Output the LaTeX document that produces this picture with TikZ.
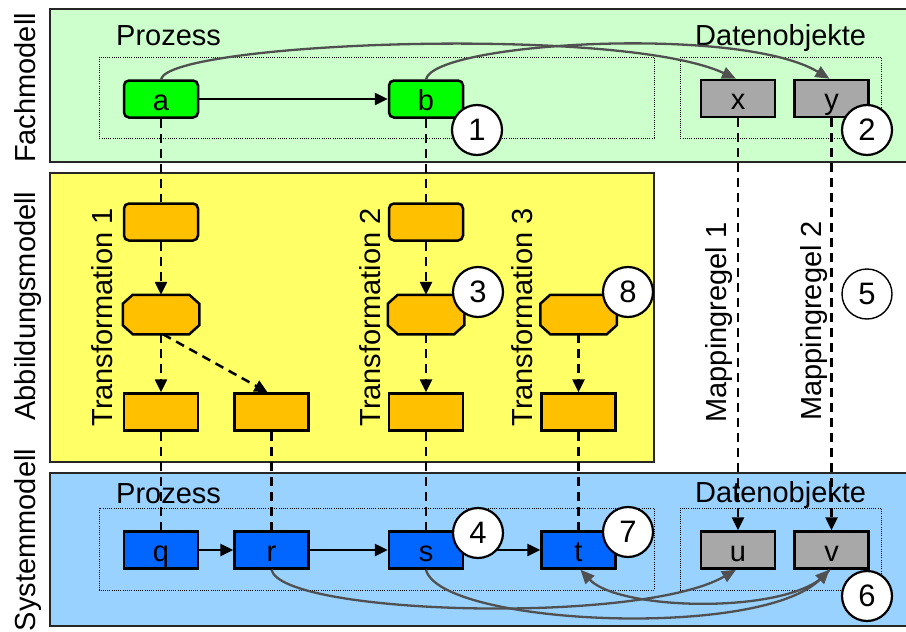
\documentclass[tikz,border=0pt]{standalone}
\usepackage{fontspec}
\setmainfont{Liberation Sans}
\usetikzlibrary{arrows.meta}
\definecolor{bandgreen}{HTML}{CCFFCC}
\definecolor{bandyellow}{HTML}{FFFF66}
\definecolor{bandblue}{HTML}{99D1FF}
\definecolor{nodegreen}{HTML}{00FF00}
\definecolor{nodeorange}{HTML}{FFC000}
\definecolor{nodeblue}{HTML}{0066FF}
\definecolor{nodegray}{HTML}{A8A8A8}
\definecolor{curvegray}{HTML}{505050}
\tikzset{
  band/.style={draw=black!85, line width=1.6pt},
  dotbox/.style={draw=black, line width=0.9pt, dash pattern=on 1pt off 1.2pt},
  lbl/.style={font=\fontsize{29}{34}\selectfont, inner sep=0pt},
  nbox/.style={draw=black, line width=2.5pt, minimum width=74pt, minimum height=37pt, inner sep=0pt, text height=22pt, text depth=0pt, font=\fontsize{29}{34}\selectfont},
  grn/.style={nbox, fill=nodegreen, rounded corners=5pt},
  gry/.style={nbox, fill=nodegray},
  orr/.style={nbox, fill=nodeorange, rounded corners=5pt},
  orb/.style={nbox, fill=nodeorange},
  oct/.style={nbox, draw=none},
  octpath/.style={draw=black, fill=nodeorange, line width=2.5pt},
  blu/.style={nbox, fill=nodeblue},
  num/.style={circle, draw=black, line width=2.2pt, fill=white, minimum size=50pt, inner sep=0pt, font=\fontsize{31}{36}\selectfont},
  flow/.style={draw=black, line width=2.5pt, -{Triangle[length=13pt,width=12pt]}},
  dl/.style={draw=black, line width=2.5pt, dash pattern=on 9pt off 6pt},
  dla/.style={dl, -{Triangle[length=13pt,width=12pt]}},
  gc/.style={draw=curvegray, line width=2.3pt, -{Triangle[length=14pt,width=12pt]}}
}
\newcommand{\octagon}[1]{%
  \path[octpath] ([xshift=10pt]#1.north west) -- ([xshift=-10pt]#1.north east)
    -- ([yshift=-9pt]#1.north east) -- ([yshift=9pt]#1.south east)
    -- ([xshift=-10pt]#1.south east) -- ([xshift=10pt]#1.south west)
    -- ([yshift=9pt]#1.south west) -- ([yshift=-9pt]#1.north west) -- cycle;}
\begin{document}
\begin{tikzpicture}[x=1pt,y=-1pt]
\useasboundingbox (0,0) rectangle (906,632);
% bands
\path[band, fill=bandgreen] (50,9) rectangle (908,162);
\path[band, fill=bandyellow] (50,173) rectangle (654,462);
\path[band, fill=bandblue] (50,473) rectangle (908,626);
% dotted groups
\path[dotbox] (99,57) rectangle (654,138);
\path[dotbox] (680,57) rectangle (881,138);
\path[dotbox] (99,508) rectangle (654,590);
\path[dotbox] (680,508) rectangle (881,590);
% labels
\node[lbl, rotate=90, anchor=base] (lf) at (35,88) {Fachmodell};
\node[lbl, rotate=90, anchor=base] (la) at (35,306) {Abbildungsmodell};
\node[lbl, rotate=90, anchor=base] (ls) at (35,540) {Systemmodell};
\node[lbl, anchor=base west] (p1) at (116,45) {Prozess};
\node[lbl, anchor=base west] (d1) at (695,45) {Datenobjekte};
\node[lbl, anchor=base west] (p2) at (116,503) {Prozess};
\node[lbl, anchor=base west] (d2) at (695,502) {Datenobjekte};
\node[lbl, rotate=90, anchor=base] (t1) at (112,317.5) {Transformation 1};
\node[lbl, rotate=90, anchor=base] (t2) at (380,317.5) {Transformation 2};
\node[lbl, rotate=90, anchor=base] (t3) at (532,317.5) {Transformation 3};
\node[lbl, rotate=90, anchor=base] (m1) at (726,322.5) {Mappingregel 1};
\node[lbl, rotate=90, anchor=base] (m2) at (821,321) {Mappingregel 2};
% Fachmodell nodes
\node[grn] (a) at (161,99) {a};
\node[grn] (b) at (426,99) {b};
\node[gry] (x) at (738,98.5) {x};
\node[gry] (y) at (831.5,98.5) {y};
% Abbildungsmodell nodes
\node[orr] (ra) at (161,222) {};
\node[orr] (rb) at (426,222) {};
\node[oct] (oa) at (161,314.5) {};
\node[oct] (ob) at (426,314.5) {};
\node[oct] (ot) at (578.5,314.5) {};
\octagon{oa}\octagon{ob}\octagon{ot}
\node[orb] (ba) at (161,412) {};
\node[orb] (br) at (271.5,412) {};
\node[orb] (bb) at (426,412) {};
\node[orb] (bt) at (578.5,412) {};
% Systemmodell nodes
\node[blu] (q) at (161,550) {q};
\node[blu] (r) at (271.5,550) {r};
\node[blu] (s) at (426,550) {s};
\node[blu] (t) at (578.5,550) {t};
\node[gry] (u) at (738,550) {u};
\node[gry] (v) at (831.5,550) {v};
% flows
\draw[flow] (a) -- (b);
\draw[flow] (q) -- (r);
\draw[flow] (r) -- (s);
\draw[flow] (s) -- (t);
% dashed mappings
\draw[dl] (a) -- (ra);
\draw[dla] (ra) -- (oa);
\draw[dla] (oa) -- (ba);
\draw[dla] ([xshift=2pt]oa.south) -- ([xshift=-4pt]br.north);
\draw[dl] (ba) -- (q);
\draw[dl] (br) -- (r);
\draw[dl] (b) -- (rb);
\draw[dla] (rb) -- (ob);
\draw[dla] (ob) -- (bb);
\draw[dl] (bb) -- (s);
\draw[dla] (ot) -- (bt);
\draw[dl] (bt) -- (t);
\draw[dla] (x) -- (u);
\draw[dla] (y) -- (v);
% gray curves
\draw[gc] (a.north) .. controls (170,42) and (620,25) .. ([xshift=-2pt]x.north);
\draw[gc] (b.north) .. controls (435,42) and (740,25) .. ([xshift=-2pt]y.north);
\draw[gc] (r.south) .. controls (282,615) and (640,625) .. ([xshift=-2pt]u.south);
\draw[gc] (s.south) .. controls (440,625) and (760,640) .. ([xshift=-2pt]v.south);
\draw[gc] ([xshift=-2pt]v.south) .. controls (800,615) and (620,612) .. ([xshift=2pt]t.south);
% numbered circles
\node[num] (c1) at (477,130) {1};
\node[num] (c2) at (867,130) {2};
\node[num] (c3) at (478,292) {3};
\node[num] (c8) at (628,292) {8};
\node[num, line width=1.4pt, fill=none] (c5) at (867,294) {5};
\node[num] (c4) at (478,533) {4};
\node[num] (c7) at (628,532) {7};
\node[num] (c6) at (867,596) {6};
\end{tikzpicture}
\end{document}
